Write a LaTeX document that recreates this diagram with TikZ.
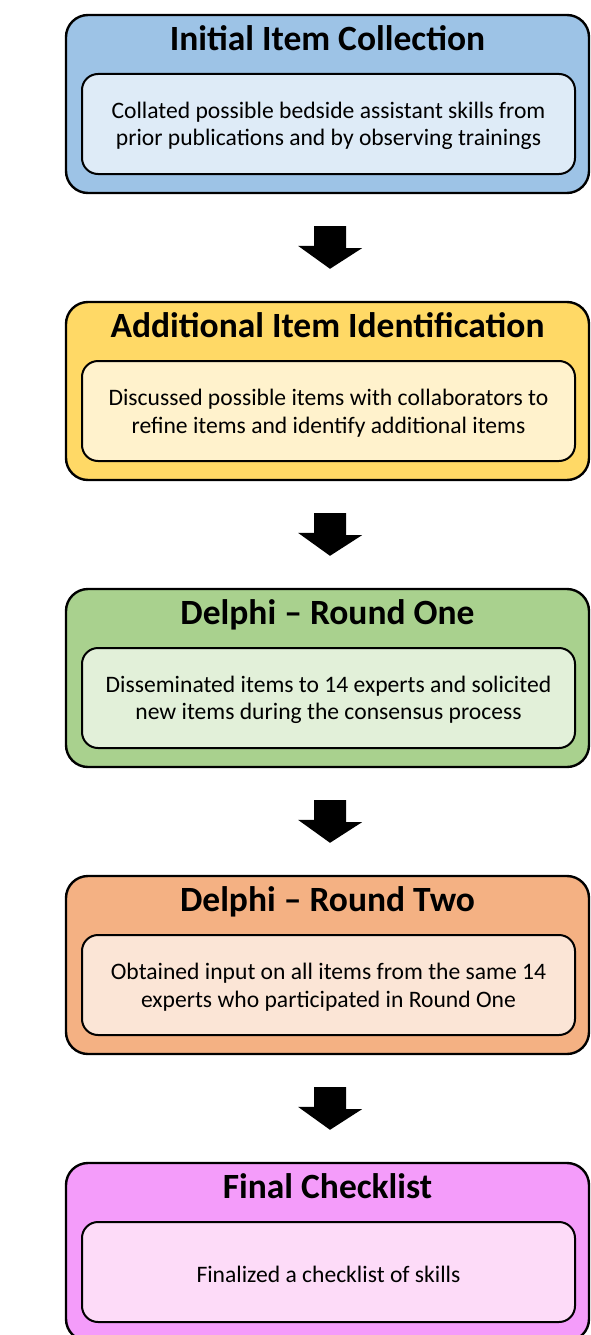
\documentclass[tikz,border=0pt]{standalone}
\usepackage{fontspec}
\setmainfont{Carlito}
\definecolor{oA}{HTML}{9DC3E6}\definecolor{iA}{HTML}{DEEBF7}
\definecolor{oB}{HTML}{FFD966}\definecolor{iB}{HTML}{FFF2CC}
\definecolor{oC}{HTML}{A9D18E}\definecolor{iC}{HTML}{E2F0D9}
\definecolor{oD}{HTML}{F4B183}\definecolor{iD}{HTML}{FBE5D6}
\definecolor{oE}{HTML}{F49CFA}\definecolor{iE}{HTML}{FDDBF8}
\tikzset{
  outerbox/.style={draw=black, line width=2.4pt, rounded corners=22pt,
    minimum width=523pt, minimum height=178pt, inner sep=0pt},
  innerbox/.style={draw=black, line width=2pt, rounded corners=16pt,
    minimum width=493pt, minimum height=100pt, inner sep=0pt},
  titletext/.style={font=\fontsize{35.5}{40}\selectfont\bfseries, inner sep=0pt, anchor=base},
  bodytext/.style={font=\fontsize{23.6}{27.5}\selectfont, align=center, inner sep=0pt},
  bigarrow/.style={fill=black, draw=none},
}
\newcommand\mkstage[6]{% name, top, outer colour, inner colour, title, body
  \node[outerbox, fill=#3] (o#1) at (327.5,{-(#2+89)}) {};
  \node[titletext] (t#1) at (327.5,{-(#2+35.2)}) {#5};
  \node[innerbox, fill=#4] (i#1) at (328.5,{-(#2+109)}) {};
  \node[bodytext] (b#1) at ([yshift=-2pt]i#1.center) {#6};
}
\newcommand\mkarrow[2]{% from, to
  \fill[bigarrow] ([xshift=2.5pt]o#1.south) ++(-16,-32) -- ++(32,0) -- ++(0,-22)
    -- ++(16,0) -- ([xshift=2.5pt,yshift=32pt]o#2.north) -- ++(-32,23) -- ++(16,0) -- cycle;
}
\begin{document}
\begin{tikzpicture}[x=1pt,y=1pt]
\useasboundingbox (0,0) rectangle (590,-1335);
\mkstage{1}{15}{oA}{iA}{Initial Item Collection}{Collated possible bedside assistant skills from\\prior publications and by observing trainings}
\mkstage{2}{302}{oB}{iB}{Additional Item Identification}{Discussed possible items with collaborators to\\refine items and identify additional items}
\mkstage{3}{589}{oC}{iC}{Delphi – Round One}{Disseminated items to 14 experts and solicited\\new items during the consensus process}
\mkstage{4}{876}{oD}{iD}{Delphi – Round Two}{Obtained input on all items from the same 14\\experts who participated in Round One}
\mkstage{5}{1163}{oE}{iE}{Final Checklist}{Finalized a checklist of skills}
\mkarrow{1}{2}
\mkarrow{2}{3}
\mkarrow{3}{4}
\mkarrow{4}{5}
\end{tikzpicture}
\end{document}
